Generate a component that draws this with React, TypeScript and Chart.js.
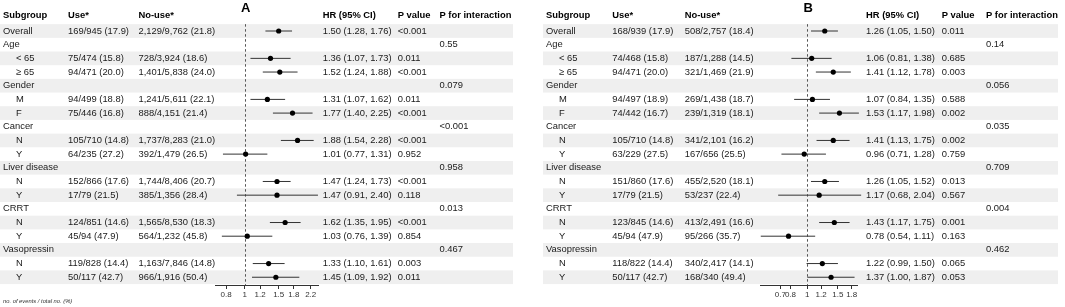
import React, { useEffect, useRef } from "react";
import { Chart, registerables } from "chart.js";
Chart.register(...registerables);

// ---------------- DATA ----------------
const subgroups = ["Overall", "Age", "< 65", "≥ 65", "Gender", "M", "F", "Cancer", "N", "Y", "Liver disease", "N", "Y", "CRRT", "N", "Y", "Vasopressin", "N", "Y"];
const isChild = [false, false, true, true, false, true, true, false, true, true, false, true, true, false, true, true, false, true, true];

const useA = ["169/945 (17.9)", "", "75/474 (15.8)", "94/471 (20.0)", "", "94/499 (18.8)", "75/446 (16.8)", "", "105/710 (14.8)", "64/235 (27.2)", "", "152/866 (17.6)", "17/79 (21.5)", "", "124/851 (14.6)", "45/94 (47.9)", "", "119/828 (14.4)", "50/117 (42.7)"];
const noUseA = ["2,129/9,762 (21.8)", "", "728/3,924 (18.6)", "1,401/5,838 (24.0)", "", "1,241/5,611 (22.1)", "888/4,151 (21.4)", "", "1,737/8,283 (21.0)", "392/1,479 (26.5)", "", "1,744/8,406 (20.7)", "385/1,356 (28.4)", "", "1,565/8,530 (18.3)", "564/1,232 (45.8)", "", "1,163/7,846 (14.8)", "966/1,916 (50.4)"];
const hrA = [1.50, null, 1.36, 1.52, null, 1.31, 1.77, null, 1.88, 1.01, null, 1.47, 1.47, null, 1.62, 1.03, null, 1.33, 1.45];
const lowA = [1.28, null, 1.07, 1.24, null, 1.07, 1.40, null, 1.54, 0.77, null, 1.24, 0.91, null, 1.35, 0.76, null, 1.10, 1.09];
const upA = [1.76, null, 1.73, 1.88, null, 1.62, 2.25, null, 2.28, 1.31, null, 1.73, 2.40, null, 1.95, 1.39, null, 1.61, 1.92];
const pA = ["<0.001", "", "0.011", "<0.001", "", "0.011", "<0.001", "", "<0.001", "0.952", "", "<0.001", "0.118", "", "<0.001", "0.854", "", "0.003", "0.011"];
const pIntA = ["", "0.55", "", "", "0.079", "", "", "<0.001", "", "", "0.958", "", "", "0.013", "", "", "0.467", "", ""];
const ticksA = [0.8, 1, 1.2, 1.5, 1.8, 2.2];

const useB = ["168/939 (17.9)", "", "74/468 (15.8)", "94/471 (20.0)", "", "94/497 (18.9)", "74/442 (16.7)", "", "105/710 (14.8)", "63/229 (27.5)", "", "151/860 (17.6)", "17/79 (21.5)", "", "123/845 (14.6)", "45/94 (47.9)", "", "118/822 (14.4)", "50/117 (42.7)"];
const noUseB = ["508/2,757 (18.4)", "", "187/1,288 (14.5)", "321/1,469 (21.9)", "", "269/1,438 (18.7)", "239/1,319 (18.1)", "", "341/2,101 (16.2)", "167/656 (25.5)", "", "455/2,520 (18.1)", "53/237 (22.4)", "", "413/2,491 (16.6)", "95/266 (35.7)", "", "340/2,417 (14.1)", "168/340 (49.4)"];
const hrB = [1.26, null, 1.06, 1.41, null, 1.07, 1.53, null, 1.41, 0.96, null, 1.26, 1.17, null, 1.43, 0.78, null, 1.22, 1.37];
const lowB = [1.05, null, 0.81, 1.12, null, 0.84, 1.17, null, 1.13, 0.71, null, 1.05, 0.68, null, 1.17, 0.54, null, 0.99, 1.00];
const upB = [1.50, null, 1.38, 1.78, null, 1.35, 1.98, null, 1.75, 1.28, null, 1.52, 2.04, null, 1.75, 1.11, null, 1.50, 1.87];
const pB = ["0.011", "", "0.685", "0.003", "", "0.588", "0.002", "", "0.002", "0.759", "", "0.013", "0.567", "", "0.001", "0.163", "", "0.065", "0.053"];
const pIntB = ["", "0.14", "", "", "0.056", "", "", "0.035", "", "", "0.709", "", "", "0.004", "", "", "0.462", "", ""];
const ticksB = [0.7, 0.8, 1, 1.2, 1.5, 1.8];

const headers = ["Subgroup", "Use*", "No-use*", "HR (95% CI)", "P value", "P for interaction"];
const footnote = "no. of events / total no. (%)";

// ---------------- LAYOUT ----------------
const W = 1065;
const H = 307;
const FONT = '"Liberation Sans", Arial, Helvetica, sans-serif';
const ROW0 = 31;      // centre of first row
const ROWH = 13.68;   // row height
const AXIS_Y = 285;   // x-axis line
const NROWS = subgroups.length;

type PanelCfg = {
  title: string;
  left: number; width: number;
  plotL: number; plotR: number; xmin: number; xmax: number;
  ticks: number[];
  shadeL: number; shadeR: number;
  cols: { sub: number; child: number; use: number; nouse: number; hr: number; p: number; pint: number };
  use: string[]; nouse: string[]; hr: (number | null)[]; lo: (number | null)[]; up: (number | null)[]; p: string[]; pint: string[];
  footnote: boolean;
};

const panels: PanelCfg[] = [
  {
    title: "A", left: 0, width: 532,
    plotL: 215, plotR: 318, xmin: 0.725, xmax: 2.401, ticks: ticksA,
    shadeL: 0, shadeR: 513,
    cols: { sub: 3, child: 16, use: 68, nouse: 138.5, hr: 322.7, p: 397.7, pint: 439.5 },
    use: useA, nouse: noUseA, hr: hrA, lo: lowA, up: upA, p: pA, pint: pIntA, footnote: true,
  },
  {
    title: "B", left: 532, width: 533,
    plotL: 760, plotR: 857, xmin: 0.5345, xmax: 1.931, ticks: ticksB,
    shadeL: 543, shadeR: 1058,
    cols: { sub: 546, child: 559, use: 612.3, nouse: 684.7, hr: 866, p: 941.7, pint: 986 },
    use: useB, nouse: noUseB, hr: hrB, lo: lowB, up: upB, p: pB, pint: pIntB, footnote: false,
  },
];

function Panel({ cfg }: { cfg: PanelCfg }) {
  const ref = useRef<HTMLCanvasElement>(null);
  useEffect(() => {
    if (!ref.current) return;
    const off = cfg.left;
    const X = (v: number) => v - off;
    const idx = subgroups.map((_, i) => i).filter((i) => cfg.hr[i] != null);

    const ciSets = idx.map((i) => ({
      type: "scatter" as const,
      data: [{ x: cfg.lo[i] as number, y: i }, { x: cfg.up[i] as number, y: i }],
      showLine: true,
      borderColor: "#333333",
      borderWidth: 1,
      pointRadius: 0,
      clip: false as any,
    }));
    const ptSet = {
      type: "scatter" as const,
      data: idx.map((i) => ({ x: cfg.hr[i] as number, y: i })),
      pointRadius: 2.6,
      backgroundColor: "#000000",
      borderWidth: 0,
      clip: false as any,
    };

    const tablePlugin = {
      id: "forestTable",
      beforeDraw(chart: any) {
        const { ctx } = chart;
        const y = chart.scales.y;
        ctx.save();
        ctx.fillStyle = "#efefef";
        for (let i = 0; i < NROWS; i += 2) {
          const t = y.getPixelForValue(i - 0.5);
          const b = y.getPixelForValue(i + 0.5);
          ctx.fillRect(X(cfg.shadeL), t, cfg.shadeR - cfg.shadeL, b - t);
        }
        ctx.restore();
      },
      beforeDatasetsDraw(chart: any) {
        const { ctx, chartArea } = chart;
        const xs = chart.scales.x;
        const px = xs.getPixelForValue(1);
        ctx.save();
        ctx.strokeStyle = "#555555";
        ctx.lineWidth = 1;
        ctx.setLineDash([2.5, 2.5]);
        ctx.beginPath();
        ctx.moveTo(Math.round(px) + 0.5, chartArea.top);
        ctx.lineTo(Math.round(px) + 0.5, chartArea.bottom);
        ctx.stroke();
        ctx.restore();
      },
      afterDraw(chart: any) {
        const { ctx } = chart;
        const y = chart.scales.y;
        const xs = chart.scales.x;
        ctx.save();
        ctx.textBaseline = "middle";
        ctx.textAlign = "left";
        // title
        ctx.fillStyle = "#000";
        ctx.font = `bold 13px ${FONT}`;
        ctx.textAlign = "center";
        ctx.fillText(cfg.title, xs.getPixelForValue(1) + 1, 8.5);
        ctx.textAlign = "left";
        // headers
        const hy = y.getPixelForValue(-1.13);
        ctx.font = `bold 9.4px ${FONT}`;
        const c = cfg.cols;
        const hx = [c.sub, c.use, c.nouse, c.hr, c.p, c.pint];
        headers.forEach((h, k) => ctx.fillText(h, X(hx[k]), hy));
        // rows
        ctx.font = `9.4px ${FONT}`;
        ctx.fillStyle = "#1a1a1a";
        for (let i = 0; i < NROWS; i++) {
          const py = y.getPixelForValue(i);
          ctx.fillText(subgroups[i], X(isChild[i] ? c.child : c.sub), py);
          if (cfg.use[i]) ctx.fillText(cfg.use[i], X(c.use), py);
          if (cfg.nouse[i]) ctx.fillText(cfg.nouse[i], X(c.nouse), py);
          const hr = cfg.hr[i];
          if (hr != null) {
            const txt = `${hr.toFixed(2)} (${(cfg.lo[i] as number).toFixed(2)}, ${(cfg.up[i] as number).toFixed(2)})`;
            ctx.fillText(txt, X(c.hr), py);
          }
          if (cfg.p[i]) ctx.fillText(cfg.p[i], X(c.p), py);
          if (cfg.pint[i]) ctx.fillText(cfg.pint[i], X(c.pint), py);
        }
        if (cfg.footnote) {
          ctx.font = `italic 5.8px ${FONT}`;
          ctx.fillStyle = "#333";
          ctx.fillText(footnote, 3, 301.5);
        }
        ctx.restore();
      },
    };

    const chart = new Chart(ref.current, {
      type: "scatter",
      data: { datasets: [ptSet as any, ...(ciSets as any[])] },
      options: {
        animation: false,
        responsive: false,
        events: [],
        layout: {
          padding: {
            left: cfg.plotL - cfg.left,
            right: cfg.left + cfg.width - cfg.plotR,
            top: ROW0 - ROWH / 2,
            bottom: 0,
          },
        },
        plugins: { legend: { display: false }, tooltip: { enabled: false } },
        scales: {
          x: {
            type: "logarithmic",
            min: cfg.xmin,
            max: cfg.xmax,
            afterBuildTicks: (s: any) => {
              s.ticks = cfg.ticks.map((v) => ({ value: v }));
            },
            afterFit: (s: any) => {
              s.height = H - AXIS_Y;
            },
            ticks: {
              autoSkip: false,
              maxRotation: 0,
              minRotation: 0,
              padding: 1,
              color: "#333",
              font: { family: FONT, size: 8 },
              callback: (v: any) => String(v),
            },
            grid: {
              display: true,
              drawOnChartArea: false,
              drawTicks: true,
              tickLength: 4,
              color: "#333",
              lineWidth: 1,
            },
            border: { display: true, color: "#333", width: 1 },
          },
          y: {
            type: "linear",
            display: false,
            reverse: true,
            min: -0.5,
            max: (AXIS_Y - ROW0) / ROWH,
          },
        },
      },
      plugins: [tablePlugin as any],
    });
    return () => chart.destroy();
  }, [cfg]);

  return (
    <canvas
      ref={ref}
      width={cfg.width}
      height={H}
      style={{ position: "absolute", left: cfg.left, top: 0, width: cfg.width, height: H, display: "block" }}
    />
  );
}

export default function App() {
  return (
    <div style={{ position: "fixed", left: 0, top: 0, width: W, height: H, background: "#ffffff", overflow: "hidden" }}>
      {panels.map((p) => (
        <Panel key={p.title} cfg={p} />
      ))}
    </div>
  );
}
